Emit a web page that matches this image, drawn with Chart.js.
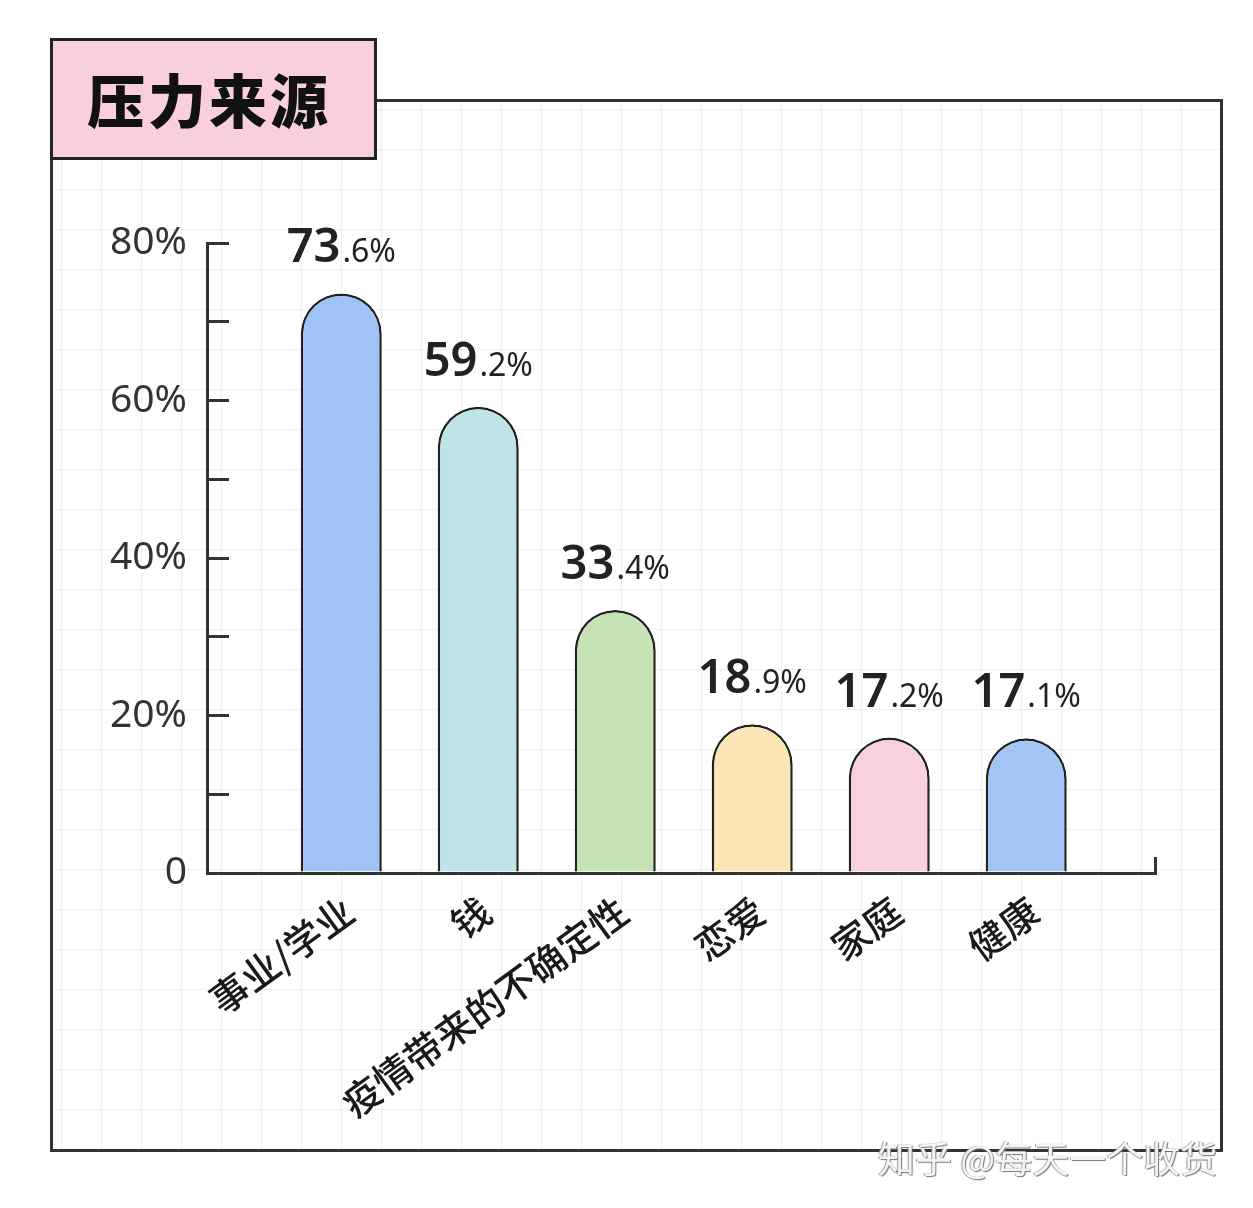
<!DOCTYPE html>
<html>
<head>
<meta charset="utf-8">
<script src="https://cdn.jsdelivr.net/npm/chart.js@4"></script>
<style>
  html, body { margin: 0; padding: 0; background: #fff; }
  body { width: 1253px; height: 1208px; position: relative; overflow: hidden; font-family: "Noto Sans", "Noto Sans CJK SC", sans-serif; }
  #card {
    position: absolute; left: 50px; top: 99px; width: 1173px; height: 1053px;
    box-sizing: border-box; border: 3px solid #333;
    background-color: #fff;
    background-image:
      linear-gradient(to right, rgba(0,0,0,0.06) 1px, transparent 1px),
      linear-gradient(to bottom, rgba(0,0,0,0.06) 1px, transparent 1px);
    background-size: 40px 40px;
    background-position: 8px 7px;
  }
  #titleBox {
    position: absolute; left: 50px; top: 38px; width: 327px; height: 122px;
    box-sizing: border-box; border: 3px solid #222; background: #F9CFDE;
    z-index: 2;
  }
  #titleText {
    position: absolute; left: 34px; top: 22px; margin: 0;
    font-family: "Noto Sans CJK SC", sans-serif; font-weight: 900; font-size: 58px;
    line-height: 70px; color: #111; letter-spacing: 3px;
  }
  #chart { position: absolute; left: 0; top: 0; z-index: 3; }
  #watermark {
    position: absolute; left: 878px; top: 1130px; z-index: 4;
    font-family: "Noto Sans CJK SC", sans-serif; font-size: 37px; color: #f4f4f4;
    text-shadow: 1px 1px 1px #777, -1px 0 1px #999;
    white-space: nowrap;
  }
</style>
</head>
<body>
<div id="card"></div>
<div id="titleBox"><h1 id="titleText">压力来源</h1></div>
<canvas id="chart" width="1253" height="1208"></canvas>
<div id="watermark">知乎 @每天一个收货</div>
<script>
const categories = ['事业/学业', '钱', '疫情带来的不确定性', '恋爱', '家庭', '健康'];
const values = [73.6, 59.2, 33.4, 18.9, 17.2, 17.1];
const barColors = ['#9EC3F4', '#BEE3E9', '#C5E3B4', '#FDE6B6', '#F9D0DE', '#A2C5F6'];
const yTickValues = [0, 10, 20, 30, 40, 50, 60, 70, 80];
const yTickLabels = ['0', '', '20%', '', '40%', '', '60%', '', '80%'];
const xMin = -0.98;
const xMax = 5.94;

const FONT = '"Noto Sans", "Noto Sans CJK SC", sans-serif';
const CJK = '"Noto Sans CJK SC", sans-serif';

const valueLabelPlugin = {
  id: 'valueLabels',
  afterDatasetsDraw(chart) {
    const ctx = chart.ctx;
    const meta = chart.getDatasetMeta(0);
    ctx.save();
    ctx.fillStyle = '#222';
    ctx.textBaseline = 'alphabetic';
    ctx.textAlign = 'left';
    meta.data.forEach((el, i) => {
      const parts = values[i].toFixed(1).split('.');
      const big = parts[0];
      const small = '.' + parts[1] + '%';
      const bigFont = '600 47px ' + FONT;
      const smallFont = '400 32px ' + FONT;
      ctx.font = bigFont; const w1 = ctx.measureText(big).width;
      ctx.font = smallFont; const w2 = ctx.measureText(small).width;
      const x0 = el.x - (w1 + w2 + 2) / 2;
      const y = el.y - 31;
      ctx.font = bigFont; ctx.fillText(big, x0, y);
      ctx.font = smallFont; ctx.fillText(small, x0 + w1 + 2, y);
    });
    ctx.restore();
  }
};

const chartData = {
  datasets: [{
    data: categories.map((c, i) => ({ x: i, y: values[i] })),
    backgroundColor: barColors,
    borderColor: '#222',
    borderWidth: 2.5,
    borderSkipped: 'bottom',
    borderRadius: { topLeft: 60, topRight: 60, bottomLeft: 0, bottomRight: 0 },
    categoryPercentage: 1,
    barPercentage: 0.629
  }]
};

new Chart(document.getElementById('chart'), {
  type: 'bar',
  data: chartData,
  plugins: [valueLabelPlugin],
  options: {
    responsive: false,
    animation: false,
    events: [],
    layout: { padding: { top: 243, right: 98, left: 0, bottom: 0 } },
    plugins: { legend: { display: false }, tooltip: { enabled: false } },
    scales: {
      x: {
        type: 'linear',
        min: xMin,
        max: xMax,
        offset: false,
        afterBuildTicks: (s) => { s.ticks = categories.map((c, i) => ({ value: i })).concat([{ value: xMax }]); },
        afterFit: (s) => { s.height = 335; },
        border: { display: true, color: '#333', width: 3 },
        grid: {
          offset: false,
          drawOnChartArea: false,
          drawTicks: true,
          tickLength: -16,
          lineWidth: 3,
          color: (ctx) => (ctx.tick && ctx.tick.value === xMax) ? '#333' : 'rgba(0,0,0,0)'
        },
        ticks: {
          autoSkip: false,
          minRotation: 36,
          maxRotation: 36,
          padding: 31,
          labelOffset: 8,
          color: '#1a1a1a',
          font: { family: CJK, size: 38, weight: 500 },
          callback: (v) => (Number.isInteger(v) && categories[v] !== undefined) ? categories[v] : ''
        }
      },
      y: {
        min: 0,
        max: 80,
        afterBuildTicks: (s) => { s.ticks = yTickValues.map(v => ({ value: v })); },
        afterFit: (s) => { s.width = 207; },
        border: { display: true, color: '#333', width: 3 },
        grid: {
          drawOnChartArea: false,
          drawTicks: true,
          tickLength: -22,
          lineWidth: 3,
          color: '#333'
        },
        ticks: {
          autoSkip: false,
          padding: 42,
          color: '#333',
          font: { family: FONT, size: 39 },
          callback: (v, i) => yTickLabels[i]
        }
      }
    }
  }
});
</script>
</body>
</html>
